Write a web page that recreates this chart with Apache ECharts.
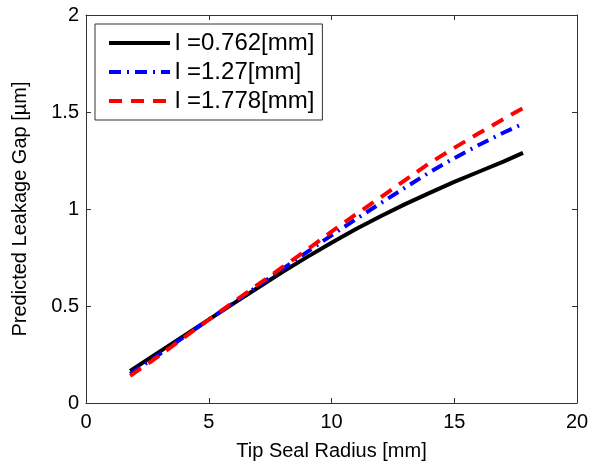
<!DOCTYPE html>
<html>
<head>
<meta charset="utf-8">
<script src="https://cdn.jsdelivr.net/npm/echarts@6/dist/echarts.min.js"></script>
<style>
  html, body { margin: 0; padding: 0; background: #fff; }
  #chart { width: 594px; height: 466px; }
</style>
</head>
<body>
<div id="chart"></div>
<script>
// tip seal radius [mm]
var radius = [1.8, 3, 4, 5, 6, 7, 8, 9, 10, 11, 12, 13, 14, 15, 16, 17, 17.8];
// predicted leakage gap [um]
var gap0762 = [0.165, 0.265, 0.347, 0.43, 0.512, 0.594, 0.675, 0.752, 0.826, 0.897, 0.963, 1.025, 1.083, 1.14, 1.192, 1.244, 1.289];
var gap127  = [0.15, 0.252, 0.341, 0.43, 0.515, 0.603, 0.69, 0.778, 0.864, 0.948, 1.03, 1.11, 1.19, 1.262, 1.33, 1.393, 1.44];
var gap1778 = [0.14, 0.245, 0.338, 0.43, 0.52, 0.61, 0.7, 0.79, 0.883, 0.973, 1.06, 1.149, 1.237, 1.315, 1.39, 1.463, 1.52];
var names = ['l =0.762[mm]', 'l =1.27[mm]', 'l =1.778[mm]'];

function pairs(ys) {
    return radius.map(function (x, i) { return [x, ys[i]]; });
}

var font = 'Liberation Sans';
var axisCol = '#333';

var chart = echarts.init(document.getElementById('chart'), null, { renderer: 'canvas' });

function mkSeries(name, ys, color, type) {
    return {
        name: name,
        type: 'line',
        data: pairs(ys),
        showSymbol: false,
        symbol: 'none',
        smooth: false,
        animation: false,
        itemStyle: { color: color },
        lineStyle: { color: color, width: 4, type: type, cap: 'butt' }
    };
}

var option = {
    animation: false,
    grid: { left: 86, right: 17, top: 15, bottom: 62, containLabel: false },
    legend: {
        left: 95,
        top: 24,
        orient: 'vertical',
        data: names,
        itemWidth: 61,
        itemHeight: 14,
        itemGap: 5,
        padding: [7, 8, 7, 12],
        borderColor: axisCol,
        borderWidth: 1,
        backgroundColor: '#fff',
        itemStyle: { color: 'transparent', borderWidth: 0 },
        lineStyle: { width: 4 },
        textStyle: { fontFamily: font, fontSize: 24, color: '#000', lineHeight: 24 }
    },
    xAxis: [{
        type: 'value', min: 0, max: 20, interval: 5,
        name: 'Tip Seal Radius [mm]', nameLocation: 'middle', nameGap: 38,
        nameTextStyle: { fontFamily: font, fontSize: 20, color: '#000' },
        axisLine: { show: true, onZero: false, lineStyle: { color: axisCol, width: 1 } },
        axisTick: { show: true, inside: true, length: 5, lineStyle: { color: axisCol } },
        axisLabel: { fontFamily: font, fontSize: 20, color: '#000', margin: 9 },
        splitLine: { show: false }
    }, {
        type: 'value', min: 0, max: 20, interval: 5, position: 'top',
        axisLine: { show: true, onZero: false, lineStyle: { color: axisCol, width: 1 } },
        axisTick: { show: true, inside: true, length: 5, lineStyle: { color: axisCol } },
        axisLabel: { show: false },
        splitLine: { show: false }
    }],
    yAxis: [{
        type: 'value', min: 0, max: 2, interval: 0.5,
        name: 'Predicted Leakage Gap [\u00b5m]', nameLocation: 'middle', nameGap: 56,
        nameTextStyle: { fontFamily: font, fontSize: 20, color: '#000' },
        axisLine: { show: true, onZero: false, lineStyle: { color: axisCol, width: 1 } },
        axisTick: { show: true, inside: true, length: 5, lineStyle: { color: axisCol } },
        axisLabel: { fontFamily: font, fontSize: 20, color: '#000', margin: 7 },
        splitLine: { show: false }
    }, {
        type: 'value', min: 0, max: 2, interval: 0.5, position: 'right',
        axisLine: { show: true, onZero: false, lineStyle: { color: axisCol, width: 1 } },
        axisTick: { show: true, inside: true, length: 5, lineStyle: { color: axisCol } },
        axisLabel: { show: false },
        splitLine: { show: false }
    }],
    series: [
        mkSeries(names[0], gap0762, '#000000', 'solid'),
        mkSeries(names[1], gap127, '#0000ff', [12, 6, 2, 6]),
        mkSeries(names[2], gap1778, '#ff0000', [13, 9])
    ]
};

chart.setOption(option);
</script>
</body>
</html>
